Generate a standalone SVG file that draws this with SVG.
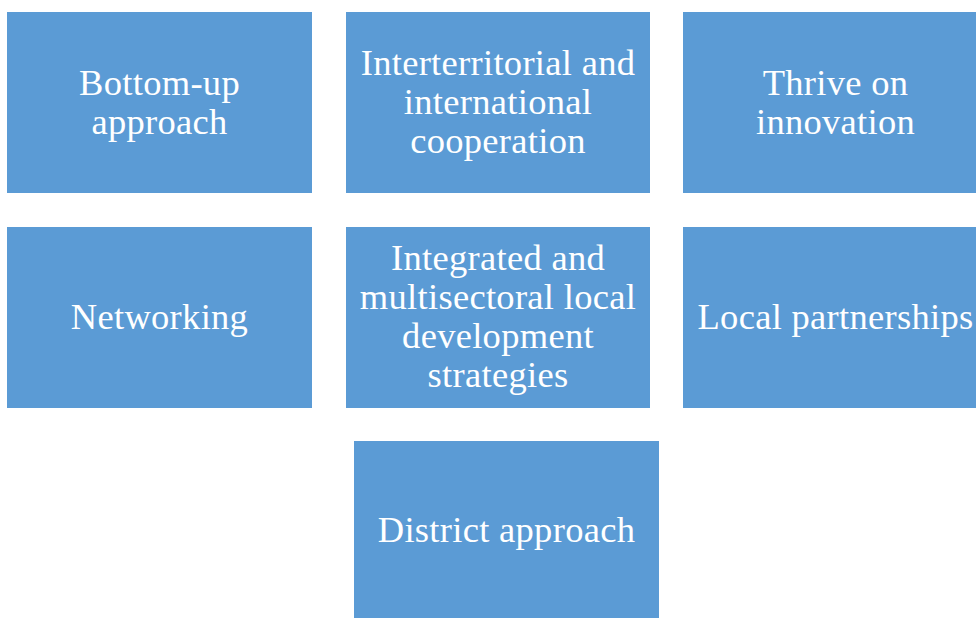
<svg xmlns="http://www.w3.org/2000/svg" width="976" height="618" viewBox="0 0 976 618">
<style>
.box{fill:#5B9BD5;}
.t{font-family:"Liberation Serif","Times New Roman",serif;font-size:36.5px;letter-spacing:0.3px;fill:#FFFFFF;text-anchor:middle;}
</style>
<rect width="976" height="618" fill="#FFFFFF"/>
<g id="n1"><rect class="box" x="7" y="12" width="305" height="181"/>
<text class="t" x="159.5" y="95">Bottom-up</text><text class="t" x="159.5" y="134">approach</text></g>
<g id="n2"><rect class="box" x="346" y="12" width="304" height="181"/>
<text class="t" x="498" y="75">Interterritorial and</text><text class="t" x="498" y="114">international</text><text class="t" x="498" y="153">cooperation</text></g>
<g id="n3"><rect class="box" x="683" y="12" width="305" height="181"/>
<text class="t" x="835.5" y="95">Thrive on</text><text class="t" x="835.5" y="134">innovation</text></g>
<g id="n4"><rect class="box" x="7" y="227" width="305" height="181"/>
<text class="t" x="159.5" y="329">Networking</text></g>
<g id="n5"><rect class="box" x="346" y="227" width="304" height="181"/>
<text class="t" x="498" y="270">Integrated and</text><text class="t" x="498" y="309">multisectoral local</text><text class="t" x="498" y="348">development</text><text class="t" x="498" y="387">strategies</text></g>
<g id="n6"><rect class="box" x="683" y="227" width="305" height="181"/>
<text class="t" x="835.5" y="329">Local partnerships</text></g>
<g id="n7"><rect class="box" x="354" y="441" width="305" height="181"/>
<text class="t" x="506.5" y="542">District approach</text></g>
<g id="connectors"></g>
</svg>
